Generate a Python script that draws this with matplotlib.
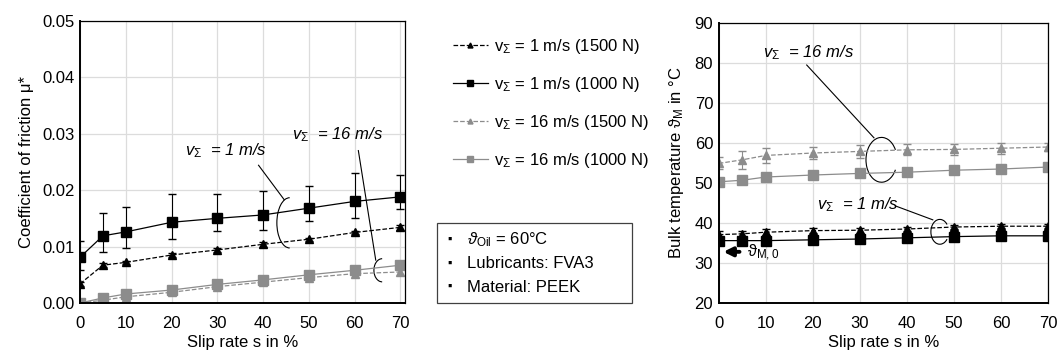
import numpy as np
import matplotlib
matplotlib.use("Agg")
import matplotlib.pyplot as plt
from matplotlib.patches import Arc, Rectangle

plt.rcParams['font.family'] = ['Liberation Sans', 'DejaVu Sans']
plt.rcParams['mathtext.fontset'] = 'custom'
plt.rcParams['mathtext.rm'] = 'Liberation Sans'
plt.rcParams['mathtext.it'] = 'Liberation Sans:italic'
plt.rcParams['font.size'] = 12

slip = [0, 5, 10, 20, 30, 40, 50, 60, 70]

# coefficient of friction
mu_1_1500 = [0.0034, 0.0067, 0.0072, 0.0085, 0.0094, 0.0104, 0.0113, 0.0125, 0.0134]
mu_1_1500_err = [0.0003, 0.0003, 0.0003, 0.0003, 0.0004, 0.0004, 0.0003, 0.0003, 0.0005]
mu_1_1000 = [0.0081, 0.0119, 0.0126, 0.0143, 0.0150, 0.0156, 0.0168, 0.0180, 0.0188]
mu_1_1000_lo = [0.0058, 0.0090, 0.0097, 0.0113, 0.0128, 0.0130, 0.0145, 0.0150, 0.0167]
mu_1_1000_hi = [0.0110, 0.0160, 0.0170, 0.0193, 0.0193, 0.0198, 0.0208, 0.0230, 0.0226]
mu_16_1500 = [0.0, 0.0005, 0.0011, 0.0019, 0.0029, 0.0037, 0.0045, 0.0052, 0.0055]
mu_16_1000 = [0.0, 0.0009, 0.0016, 0.0023, 0.0033, 0.0041, 0.0050, 0.0058, 0.0067]

# bulk temperature
t_1_1500 = [37.1, 37.3, 37.7, 38.1, 38.2, 38.5, 39.0, 39.2, 39.2]
t_1_1500_err = [0.8, 0.8, 0.7, 0.6, 0.6, 0.6, 0.5, 0.5, 0.5]
t_1_1000 = [35.6, 35.6, 35.6, 35.8, 36.0, 36.3, 36.6, 36.8, 36.8]
t_16_1500 = [54.9, 55.8, 56.9, 57.5, 57.9, 58.3, 58.4, 58.7, 59.0]
t_16_1500_err = [1.5, 2.2, 1.9, 1.6, 1.7, 1.4, 1.3, 1.4, 1.0]
t_16_1000 = [50.3, 50.7, 51.5, 52.0, 52.4, 52.7, 53.2, 53.5, 54.0]

labels = [r"v$_{\Sigma}$ = 1 m/s (1500 N)", r"v$_{\Sigma}$ = 1 m/s (1000 N)",
          r"v$_{\Sigma}$ = 16 m/s (1500 N)", r"v$_{\Sigma}$ = 16 m/s (1000 N)"]
notes = ["$\\vartheta_{\\mathregular{Oil}}$ = 60°C", "Lubricants: FVA3", "Material: PEEK"]

grey = '#8c8c8c'
fig = plt.figure(figsize=(10.57, 3.54), dpi=100)
ax1 = fig.add_axes([0.0757, 0.144, 0.3075, 0.7975])
ax2 = fig.add_axes([0.680, 0.144, 0.3115, 0.791])


def style(ax):
    ax.grid(True, color='#dcdcdc', lw=0.9)
    ax.set_axisbelow(True)
    ax.tick_params(length=0, labelsize=12)
    ax.tick_params(axis='x', pad=9)
    ax.tick_params(axis='y', pad=4)
    for s in ['top', 'right']:
        ax.spines[s].set_linewidth(0.9)
    for s in ['left', 'bottom']:
        ax.spines[s].set_linewidth(1.4)
    ax.set_xticks(range(0, 71, 10))
    ax.set_xlabel("Slip rate s in %", labelpad=3)


# left: friction
l1, = ax1.plot(slip, mu_1_1500, color='black', ls='--', lw=0.9, marker='^', ms=5.5)
ax1.errorbar(slip, mu_1_1500, yerr=mu_1_1500_err, fmt='none', ecolor='black', capsize=3, elinewidth=0.8)
l2, = ax1.plot(slip, mu_1_1000, color='black', ls='-', lw=0.9, marker='s', ms=7)
ax1.errorbar(slip, mu_1_1000,
             yerr=[np.array(mu_1_1000) - np.array(mu_1_1000_lo), np.array(mu_1_1000_hi) - np.array(mu_1_1000)],
             fmt='none', ecolor='black', capsize=3, elinewidth=0.8)
l3, = ax1.plot(slip, mu_16_1500, color=grey, ls='--', lw=0.9, marker='^', ms=5.5)
l4, = ax1.plot(slip, mu_16_1000, color=grey, ls='-', lw=0.9, marker='s', ms=7)
ax1.set_xlim(0, 71)
ax1.set_ylim(0, 0.05)
ax1.set_yticks(np.arange(0, 0.051, 0.01))
ax1.yaxis.set_major_formatter(matplotlib.ticker.FormatStrFormatter('%.2f'))
ax1.set_ylabel("Coefficient of friction μ*", labelpad=6)
style(ax1)

ax1.text(23, 0.0262, r"$v_{\Sigma}$  = 1 m/s", style='italic', fontsize=12)
ax1.text(46.4, 0.029, r"$v_{\Sigma}$  = 16 m/s", style='italic', fontsize=12)
ax1.plot([39, 44.6], [0.0244, 0.0183], color='black', lw=0.8)
ax1.add_patch(Arc((45.8, 0.0142), 5.6, 0.0089, theta1=45, theta2=310, color='black', lw=0.8))
ax1.plot([60.8, 64.6], [0.0270, 0.0076], color='black', lw=0.8)
ax1.add_patch(Arc((66.0, 0.0058), 3.6, 0.0041, theta1=50, theta2=310, color='black', lw=0.8))

# right: bulk temperature
ax2.plot(slip, t_1_1500, color='black', ls='--', lw=0.9, marker='^', ms=5.5)
ax2.errorbar(slip, t_1_1500, yerr=t_1_1500_err, fmt='none', ecolor='black', capsize=3, elinewidth=0.8)
ax2.plot(slip, t_1_1000, color='black', ls='-', lw=0.9, marker='s', ms=7)
ax2.plot(slip, t_16_1500, color=grey, ls='--', lw=0.9, marker='^', ms=5.5)
ax2.errorbar(slip, t_16_1500, yerr=t_16_1500_err, fmt='none', ecolor=grey, capsize=3, elinewidth=0.8)
ax2.plot(slip, t_16_1000, color=grey, ls='-', lw=0.9, marker='s', ms=7)
ax2.set_xlim(0, 70)
ax2.set_ylim(20, 90)
ax2.set_yticks(range(20, 91, 10))
ax2.set_ylabel("Bulk temperature ϑ$_{\\mathregular{M}}$ in °C", labelpad=6)
style(ax2)

ax2.text(9.4, 81.5, r"$v_{\Sigma}$  = 16 m/s", style='italic', fontsize=12)
ax2.plot([18.7, 33.0], [79.5, 61.3], color='black', lw=0.8)
ax2.add_patch(Arc((34.6, 55.8), 6.6, 11.2, theta1=40, theta2=320, color='black', lw=0.8))
ax2.text(20.9, 43.5, r"$v_{\Sigma}$  = 1 m/s", style='italic', fontsize=12)
ax2.plot([37.5, 45.5], [44.3, 40.8], color='black', lw=0.8)
ax2.add_patch(Arc((47.0, 37.8), 3.8, 6.2, theta1=50, theta2=310, color='black', lw=0.8))
ax2.annotate("", xy=(0.4, 32.8), xytext=(5.0, 32.8),
             arrowprops=dict(arrowstyle='-|>', color='black', lw=2.8, mutation_scale=13))
ax2.text(5.9, 32.6, "ϑ$_{\\mathregular{M,0}}$", va='center', fontsize=12)

# legend
leg = fig.legend([l1, l2, l3, l4], labels, loc='upper left', bbox_to_anchor=(0.414, 0.937),
                 frameon=False, fontsize=12, labelspacing=1.13, handlelength=2.1,
                 handletextpad=0.4, markerscale=0.65)

# info box
fig.add_artist(Rectangle((437 / 1057, 1 - 303 / 354), 195 / 1057, 80 / 354,
                         transform=fig.transFigure, fill=False, ec='#404040', lw=0.9))
for i, n in enumerate(notes):
    yy = 1 - (240 + i * 23.5) / 354
    fig.text(450 / 1057, yy, "▪", ha='center', va='center', fontsize=9)
    fig.text(467 / 1057, yy, n, va='center', fontsize=12)

fig.savefig("out.png", dpi=100)
